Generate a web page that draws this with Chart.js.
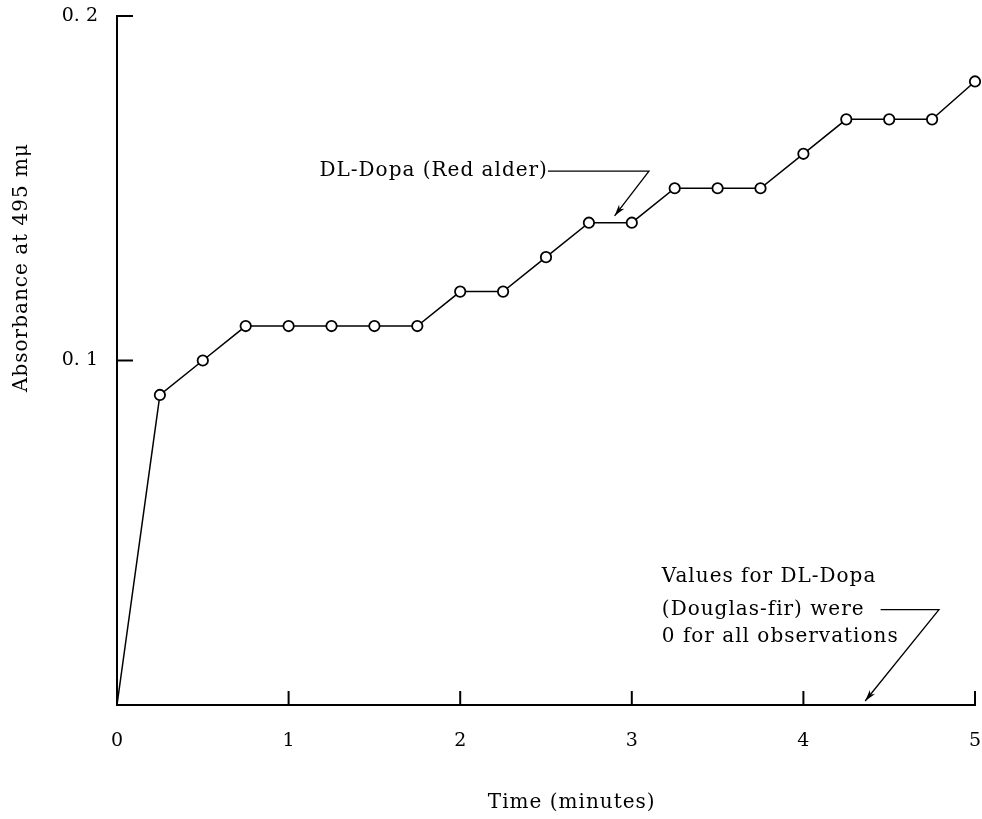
<!DOCTYPE html>
<html>
<head>
<meta charset="utf-8">
<script src="https://cdn.jsdelivr.net/npm/chart.js@4.4.1/dist/chart.umd.min.js"></script>
<style>
  html, body { margin: 0; padding: 0; background: #fff; }
  #wrap { width: 982px; height: 819px; position: relative; }
</style>
</head>
<body>
<div id="wrap"><canvas id="c" width="982" height="819"></canvas></div>
<script>
// ---- data ----
const times = [0, 0.25, 0.5, 0.75, 1, 1.25, 1.5, 1.75, 2, 2.25, 2.5, 2.75, 3, 3.25, 3.5, 3.75, 4, 4.25, 4.5, 4.75, 5];
const redAlder = [0, 0.09, 0.10, 0.11, 0.11, 0.11, 0.11, 0.11, 0.12, 0.12, 0.13, 0.14, 0.14, 0.15, 0.15, 0.15, 0.16, 0.17, 0.17, 0.17, 0.181];
const douglasFir = [0, 0, 0, 0, 0, 0, 0, 0, 0, 0, 0, 0, 0, 0, 0, 0, 0, 0, 0, 0, 0];
const xTickValues = [0, 1, 2, 3, 4, 5];
const yTickValues = [0.1, 0.2];
const yTickLabels = { 0.1: '0. 1', 0.2: '0. 2' };
const xTitle = 'Time (minutes)';
const yTitle = 'Absorbance at 495 mμ';
const redLabel = 'DL-Dopa (Red alder)';
const firLabel = ['Values for DL-Dopa', '(Douglas-fir) were', '0 for all observations'];

const FONT = '"DejaVu Serif", "Liberation Serif", serif';

const annot = {
  id: 'annot',
  afterDraw(chart) {
    const ctx = chart.ctx;
    const xs = chart.scales.x, ys = chart.scales.y;
    const x0 = xs.getPixelForValue(0), y0 = ys.getPixelForValue(0);
    ctx.save();
    ctx.strokeStyle = '#000';
    ctx.fillStyle = '#000';
    ctx.lineWidth = 2;
    // inward ticks
    yTickValues.forEach(v => {
      const p = ys.getPixelForValue(v);
      ctx.beginPath(); ctx.moveTo(x0, p); ctx.lineTo(x0 + 16, p); ctx.stroke();
    });
    xTickValues.slice(1).forEach(v => {
      const p = xs.getPixelForValue(v);
      ctx.beginPath(); ctx.moveTo(p, y0); ctx.lineTo(p, y0 - 14); ctx.stroke();
    });

    ctx.font = '20px ' + FONT;
    try { ctx.letterSpacing = '1px'; } catch (e) {}
    ctx.textAlign = 'center'; ctx.textBaseline = 'middle';
    // axis titles
    ctx.fillText(xTitle, xs.getPixelForValue(2.65), 803);
    ctx.save();
    ctx.translate(22, ys.getPixelForValue(0.127));
    ctx.rotate(-Math.PI / 2);
    ctx.fillText(yTitle, 0, 0);
    ctx.restore();

    // Red alder annotation
    ctx.textAlign = 'left';
    const ty = ys.getPixelForValue(0.155);
    const tx = xs.getPixelForValue(1.18);
    ctx.fillText(redLabel, tx, ty);
    const tw = ctx.measureText(redLabel).width;
    ctx.lineWidth = 1.3;
    const corner = [xs.getPixelForValue(3.1), ty];
    const tip = [xs.getPixelForValue(2.9), ys.getPixelForValue(0.142)];
    ctx.beginPath(); ctx.moveTo(tx + tw, ty); ctx.lineTo(corner[0], corner[1]); ctx.lineTo(tip[0], tip[1]); ctx.stroke();
    drawHead(ctx, corner, tip);

    // Douglas-fir annotation
    const lx = xs.getPixelForValue(3.175);
    const lys = [ys.getPixelForValue(0.0373), ys.getPixelForValue(0.0277), ys.getPixelForValue(0.0198)];
    firLabel.forEach((s, i) => ctx.fillText(s, lx, lys[i]));
    const c2 = [xs.getPixelForValue(4.79), lys[1]];
    const s2 = xs.getPixelForValue(4.45);
    const t2 = [xs.getPixelForValue(4.36), y0 - 4];
    ctx.beginPath(); ctx.moveTo(s2, lys[1]); ctx.lineTo(c2[0], c2[1]); ctx.lineTo(t2[0], t2[1]); ctx.stroke();
    drawHead(ctx, c2, t2);
    ctx.restore();
  }
};

function drawHead(ctx, from, to) {
  const a = Math.atan2(to[1] - from[1], to[0] - from[0]);
  const L = 12, W = 0.28;
  ctx.beginPath();
  ctx.moveTo(to[0], to[1]);
  ctx.lineTo(to[0] - L * Math.cos(a - W), to[1] - L * Math.sin(a - W));
  ctx.lineTo(to[0] - L * 0.7 * Math.cos(a), to[1] - L * 0.7 * Math.sin(a));
  ctx.lineTo(to[0] - L * Math.cos(a + W), to[1] - L * Math.sin(a + W));
  ctx.closePath();
  ctx.fill();
}

new Chart(document.getElementById('c'), {
  type: 'line',
  data: {
    datasets: [
      {
        label: 'DL-Dopa (Red alder)',
        data: times.map((t, i) => ({ x: t, y: redAlder[i] })),
        borderColor: '#000',
        borderWidth: 1.5,
        pointRadius: times.map((t, i) => i === 0 ? 0 : 5.2),
        pointBackgroundColor: '#fff',
        pointBorderColor: '#000',
        pointBorderWidth: 1.8,
        tension: 0,
        clip: false
      },
      {
        label: 'DL-Dopa (Douglas-fir)',
        data: times.map((t, i) => ({ x: t, y: douglasFir[i] })),
        borderColor: '#000',
        borderWidth: 2,
        pointRadius: 0,
        tension: 0,
        clip: false
      }
    ]
  },
  options: {
    responsive: false,
    animation: false,
    layout: { padding: { top: 16, right: 6, left: 0, bottom: 0 } },
    plugins: { legend: { display: false }, tooltip: { enabled: false } },
    scales: {
      x: {
        type: 'linear', min: 0, max: 5,
        afterBuildTicks: s => { s.ticks = xTickValues.map(v => ({ value: v })); },
        afterFit: s => { s.height = 114; s.paddingLeft = 0; s.paddingRight = 0; },
        grid: { display: true, drawOnChartArea: false, drawTicks: false },
        border: { display: true, color: '#000', width: 2 },
        ticks: { padding: 25, color: '#000', font: { family: FONT, size: 19 }, callback: v => String(v) }
      },
      y: {
        type: 'linear', min: 0, max: 0.2,
        afterBuildTicks: s => { s.ticks = yTickValues.map(v => ({ value: v })); },
        afterFit: s => { s.width = 117; s.paddingTop = 0; s.paddingBottom = 0; },
        grid: { display: true, drawOnChartArea: false, drawTicks: false },
        border: { display: true, color: '#000', width: 2 },
        ticks: { padding: 19, color: '#000', font: { family: FONT, size: 19 }, callback: v => yTickLabels[v] || '' }
      }
    }
  },
  plugins: [annot]
});
</script>
</body>
</html>
